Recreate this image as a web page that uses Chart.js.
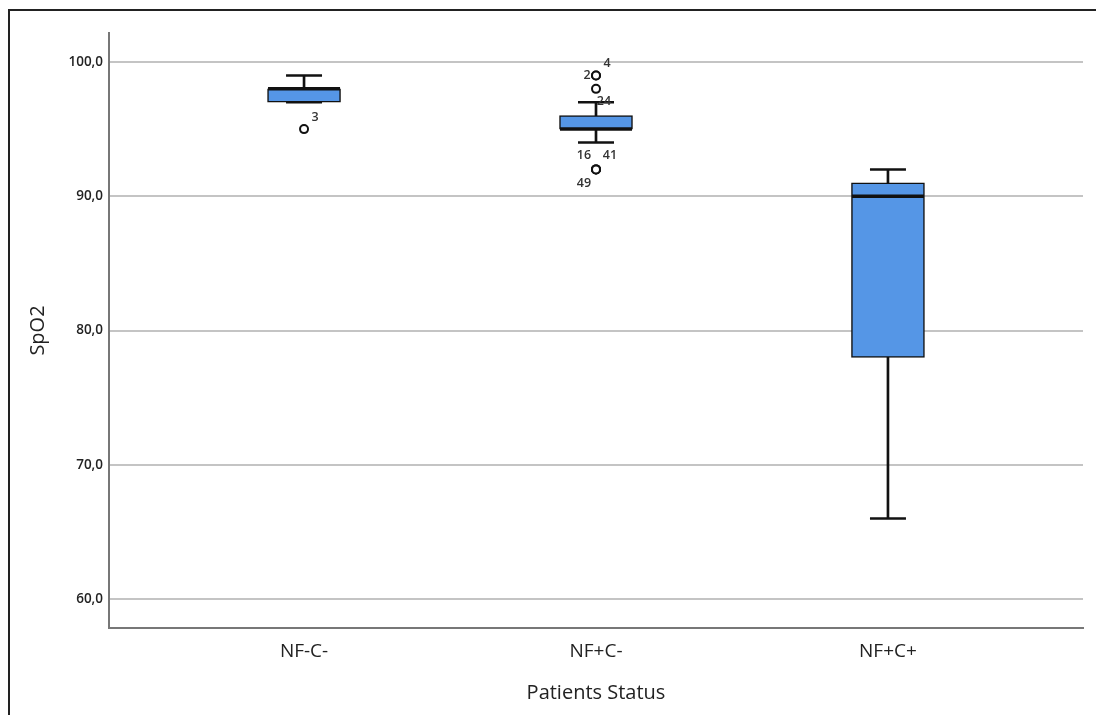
<!DOCTYPE html>
<html>
<head>
<meta charset="utf-8">
<script src="https://cdn.jsdelivr.net/npm/chart.js@4/dist/chart.umd.min.js"></script>
<style>
  body { margin: 0; background: #fff; }
  #frame { position: absolute; left: 8px; top: 9px; width: 1088px; height: 706px;
    border-top: 2px solid #222; border-left: 2px solid #222; }
  #wrap { position: absolute; left: 0; top: 0; width: 1096px; height: 715px; }
</style>
</head>
<body>
<div id="frame"></div>
<div id="wrap"><canvas id="myChart" width="1096" height="715"></canvas></div>
<script>
// categories + boxplot stats
const categories = ["NF-C-", "NF+C-", "NF+C+"];
const whiskerLow = [97, 94, 66];
const q1 = [97, 95, 78];
const median = [98, 95, 90];
const q3 = [98, 96, 91];
const whiskerHigh = [99, 97, 92];

// outliers (group index, value, case id)
const outlierGroup = [0, 1, 1, 1, 1, 1, 1];
const outlierValue = [95, 99, 99, 98, 92, 92, 92];
const outlierId = ["3", "2", "4", "24", "16", "41", "49"];

const yTicks = [60, 70, 80, 90, 100];

const boxColor = "#5596e6";
const font = "'Open Sans', 'Noto Sans', sans-serif";

// label offsets in px, so the case numbers sit like spss puts them
const labelOffsets = {
	"3": [11, -12], "2": [-9, 0], "4": [11, -12], "24": [8, 13],
	"16": [-12, -14], "41": [14, -14], "49": [-12, 14],
};

const outlierLabels = {
	id: "outlierLabels",
	afterDatasetsDraw(chart) {
		const meta = chart.getDatasetMeta(5);
		const {ctx} = chart;
		ctx.save();
		ctx.font = "600 12.5px " + font;
		ctx.fillStyle = "#333";
		ctx.textAlign = "center";
		ctx.textBaseline = "middle";
		meta.data.forEach((pt, i) => {
			const off = labelOffsets[outlierId[i]] || [10, -10];
			ctx.fillText(outlierId[i], pt.x + off[0], pt.y + off[1]);
		});
		ctx.restore();
	},
};

const xs = categories.map((_, i) => i);

const context = document.querySelector("#myChart");
const boxChart = new Chart(context, { // eslint-disable-line no-unused-vars
	type: "bar",
	data: {
		datasets: [
			{
				label: "whisker",
				data: xs.map(i => ({x: i, y: [whiskerLow[i], whiskerHigh[i]]})),
				backgroundColor: "#111",
				borderWidth: 0,
				barThickness: 2,
				grouped: false,
				order: 5,
			},
			{
				label: "box",
				data: xs.map(i => ({x: i, y: [q1[i], q3[i]]})),
				backgroundColor: boxColor,
				borderColor: "#111",
				borderWidth: 1.5,
				borderSkipped: false,
				barThickness: 73,
				grouped: false,
				order: 4,
			},
			{
				type: "scatter",
				label: "caps high",
				data: xs.map(i => ({x: i, y: whiskerHigh[i]})),
				pointStyle: "line",
				pointRadius: 18,
				borderColor: "#111",
				borderWidth: 2.5,
				order: 3,
			},
			{
				type: "scatter",
				label: "caps low",
				data: xs.map(i => ({x: i, y: whiskerLow[i]})),
				pointStyle: "line",
				pointRadius: 18,
				borderColor: "#111",
				borderWidth: 2.5,
				order: 3,
			},
			{
				type: "scatter",
				label: "median",
				data: xs.map(i => ({x: i, y: median[i]})),
				pointStyle: "line",
				pointRadius: 36,
				borderColor: "#111",
				borderWidth: 3.5,
				order: 2,
			},
			{
				type: "scatter",
				label: "outliers",
				data: outlierValue.map((v, i) => ({x: outlierGroup[i], y: v})),
				pointStyle: "circle",
				pointRadius: 4,
				backgroundColor: "#fff",
				borderColor: "#111",
				borderWidth: 2,
				order: 1,
			},
		],
	},
	options: {
		animation: false,
		responsive: false,
		events: [],
		layout: {
			autoPadding: false,
			padding: {left: 9, right: 13, top: 33, bottom: 0},
		},
		scales: {
			x: {
				type: "linear",
				offset: false,
				min: -0.668,
				max: 2.668,
				afterBuildTicks(scale) {
					scale.ticks = xs.map(v => ({value: v}));
				},
				afterFit(scale) {
					scale.height = 87;
				},
				grid: {display: false},
				border: {display: true, color: "#777", width: 2},
				ticks: {
					padding: 4,
					color: "#222",
					font: {family: font, size: 19},
					callback: v => categories[v],
				},
				title: {
					display: true,
					text: "Patients Status",
					color: "#222",
					font: {family: font, size: 20, weight: "500"},
					padding: {bottom: 10},
				},
			},
			y: {
				type: "linear",
				min: 57.84,
				max: 102.16,
				afterBuildTicks(scale) {
					scale.ticks = yTicks.map(v => ({value: v}));
				},
				afterFit(scale) {
					scale.width = 100;
				},
				grid: {color: "#c4c4c4", lineWidth: 2, drawTicks: false},
				border: {display: true, color: "#777", width: 2},
				ticks: {
					padding: 6,
					color: "#222",
					font: {family: font, size: 13.5, weight: "600"},
					callback: v => v.toFixed(1).replace(".", ","),
				},
				title: {
					display: true,
					text: "SpO2",
					color: "#222",
					font: {family: font, size: 20, weight: "500"},
					padding: {top: 17},
				},
			},
		},
		plugins: {
			legend: {display: false},
			tooltip: {enabled: false},
		},
	},
	plugins: [outlierLabels],
});
</script>
</body>
</html>
